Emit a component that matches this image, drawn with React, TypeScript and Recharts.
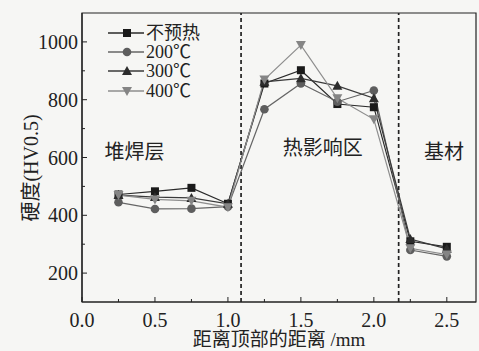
import React from 'react'
import { LineChart, Line, XAxis, YAxis, ReferenceLine, ReferenceArea, ReferenceDot, Legend, Customized } from 'recharts'

// distance from top surface (mm)
const depth = [0.25, 0.5, 0.75, 1.0, 1.25, 1.5, 1.75, 2.0, 2.25, 2.5]
// hardness HV0.5 per preheat condition
const noPreheat = [472, 483, 495, 440, 856, 902, 785, 774, 310, 291]
const pre200 = [445, 422, 423, 430, 767, 856, 793, 832, 280, 258]
const pre300 = [470, 463, 460, 440, 862, 874, 848, 805, 318, 284]
const pre400 = [470, 455, 450, 428, 870, 989, 805, 732, 286, 264]
const seriesNames = ['不预热', '200℃', '300℃', '400℃']

const xTicks = [0, 0.25, 0.5, 0.75, 1, 1.25, 1.5, 1.75, 2, 2.25, 2.5]
const xLabelled = [0, 0.5, 1, 1.5, 2, 2.5]
const yTicks = [200, 300, 400, 500, 600, 700, 800, 900, 1000]
const yLabelled = [200, 400, 600, 800, 1000]

const zoneBounds = [1.09, 2.17]
const zoneNames = ['堆焊层', '热影响区', '基材']
const zoneX = [0.36, 1.65, 2.48]
const zoneY = [620, 633, 620]

const data = depth.map((d, i) => ({
  depth: d,
  s0: noPreheat[i],
  s1: pre200[i],
  s2: pre300[i],
  s3: pre400[i],
}))

const series = [
  { key: 's0', name: seriesNames[0], shape: 'square', color: '#1a1a1a', line: '#2a2a2a' },
  { key: 's1', name: seriesNames[1], shape: 'circle', color: '#5e5e5e', line: '#666' },
  { key: 's2', name: seriesNames[2], shape: 'triangle', color: '#2c2c2c', line: '#3a3a3a' },
  { key: 's3', name: seriesNames[3], shape: 'down', color: '#858585', line: '#8e8e8e' },
]

const ink = '#222'
const font = "'Liberation Serif', 'Noto Sans CJK SC', serif"

function Marker({ shape, cx, cy, color }: { shape: string; cx: number; cy: number; color: string }) {
  if (shape === 'square') return <rect x={cx - 4} y={cy - 4} width={8} height={8} fill={color} />
  if (shape === 'circle') return <circle cx={cx} cy={cy} r={4.3} fill={color} />
  if (shape === 'triangle')
    return <polygon points={`${cx},${cy - 5} ${cx + 5},${cy + 4} ${cx - 5},${cy + 4}`} fill={color} />
  return <polygon points={`${cx},${cy + 5} ${cx + 5},${cy - 4} ${cx - 5},${cy - 4}`} fill={color} />
}

function XTick({ x, y, payload }: any) {
  const major = xLabelled.includes(payload.value)
  return (
    <g>
      <line x1={x} x2={x} y1={y} y2={y - (major ? 5 : 3)} stroke={ink} strokeWidth={1} />
      {major && (
        <text x={x} y={y + 25} textAnchor="middle" fontSize={20} fill={ink}>
          {payload.value.toFixed(1)}
        </text>
      )}
    </g>
  )
}

function YTick({ x, y, payload }: any) {
  const major = yLabelled.includes(payload.value)
  return (
    <g>
      <line x1={x} x2={x + (major ? 5 : 3)} y1={y} y2={y} stroke={ink} strokeWidth={1} />
      {major && (
        <text x={x - 4} y={y + 7} textAnchor="end" fontSize={20} fill={ink}>
          {payload.value}
        </text>
      )}
    </g>
  )
}

function YTitle() {
  return (
    <text x={31} y={168} transform="rotate(-90 31 168)" textAnchor="middle" dominantBaseline="central" fontSize={20} fill={ink}>
      硬度(HV0.5)
    </text>
  )
}

function renderLegend() {
  return (
    <div style={{ fontSize: 18, color: ink, fontFamily: font }}>
      {series.map(s => (
        <div key={s.key} style={{ display: 'flex', alignItems: 'center', height: 19.3 }}>
          <svg width={36} height={14}>
            <line x1={0} x2={36} y1={7} y2={7} stroke={s.line} strokeWidth={1.3} />
            <Marker shape={s.shape} cx={19} cy={7} color={s.color} />
          </svg>
          <span style={{ marginLeft: 2, lineHeight: '18px' }}>{s.name}</span>
        </div>
      ))}
    </div>
  )
}

export default function App() {
  return (
    <div style={{ position: 'absolute', left: 0, top: 0, width: 479, height: 351, background: '#f6f6f4', fontFamily: font }}>
      <LineChart width={479} height={351} data={data} margin={{ top: 13, right: 3, left: 0, bottom: 0 }}>
        <XAxis
          dataKey="depth"
          type="number"
          domain={[0, 2.7]}
          ticks={xTicks}
          interval={0}
          allowDataOverflow
          height={49}
          tickSize={0}
          tickMargin={0}
          tickLine={false}
          tick={<XTick />}
          axisLine={{ stroke: ink, strokeWidth: 1.2 }}
          label={{ value: '距离顶部的距离 /mm', position: 'insideBottom', offset: 5, fontSize: 19, fill: ink }}
        />
        <YAxis
          type="number"
          domain={[100, 1100]}
          ticks={yTicks}
          interval={0}
          allowDataOverflow
          width={82}
          tickSize={0}
          tickMargin={0}
          tickLine={false}
          tick={<YTick />}
          axisLine={{ stroke: ink, strokeWidth: 1.2 }}
        />
        <ReferenceArea x1={0} x2={2.7} y1={100} y2={1100} fill="none" stroke={ink} strokeWidth={1.2} ifOverflow="extendDomain" />
        {zoneBounds.map(b => (
          <ReferenceLine key={b} x={b} stroke={ink} strokeWidth={1.7} strokeDasharray="4 3" />
        ))}
        {zoneNames.map((n, i) => (
          <ReferenceDot
            key={n}
            x={zoneX[i]}
            y={zoneY[i]}
            r={0}
            fill="none"
            stroke="none"
            label={{ value: n, position: 'center', fontSize: 20, fill: ink }}
          />
        ))}
        {series.map(s => (
          <Line
            key={s.key}
            dataKey={s.key}
            name={s.name}
            stroke={s.line}
            strokeWidth={1.2}
            isAnimationActive={false}
            dot={(p: any) => <Marker key={`${s.key}-${p.index}`} shape={s.shape} cx={p.cx} cy={p.cy} color={s.color} />}
          />
        ))}
        <Legend
          verticalAlign="middle"
          align="center"
          content={renderLegend}
          wrapperStyle={{ top: 23, left: 108, width: 'auto' }}
        />
        <Customized component={YTitle} />
      </LineChart>
    </div>
  )
}
